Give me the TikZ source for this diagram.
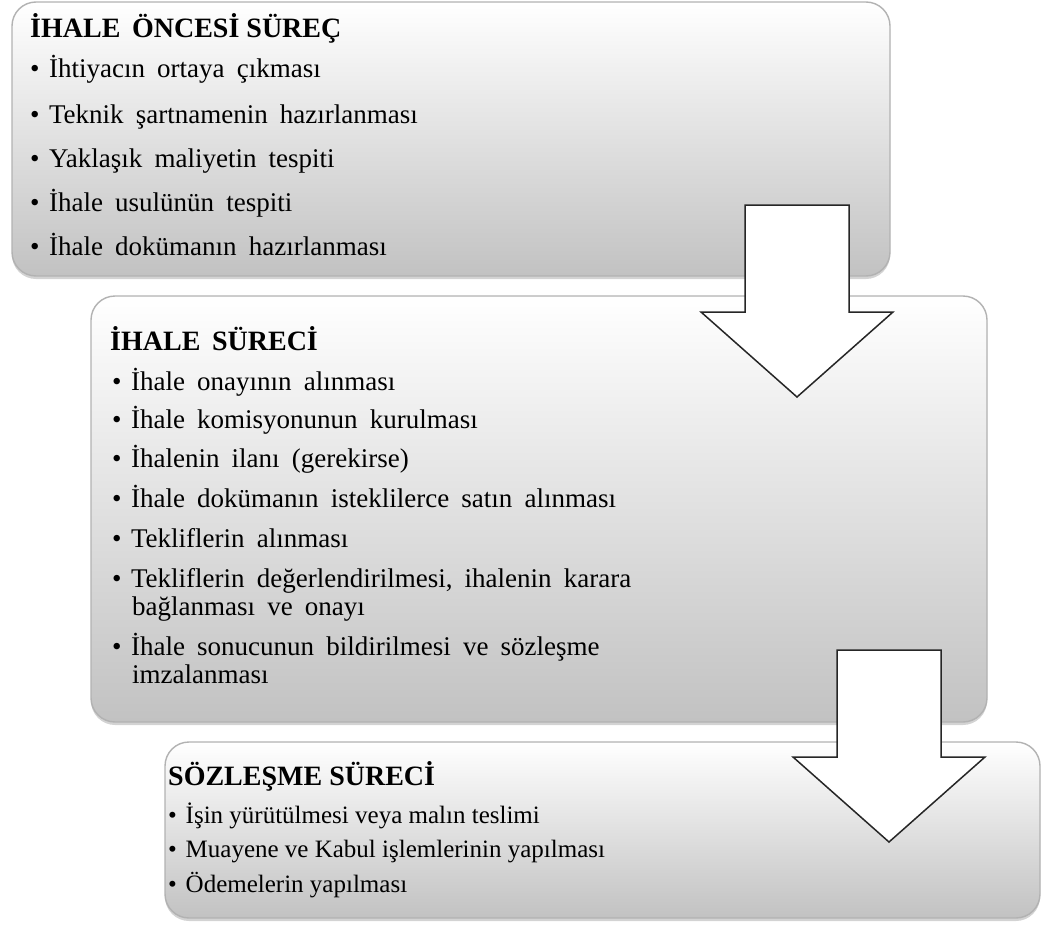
\documentclass[tikz,border=0pt]{standalone}
\usepackage{fontspec}
\setmainfont{Liberation Serif}
\usepackage{tikz}
\usetikzlibrary{shadows}

\newcommand{\stagebul}{\textbullet\hspace{0.35em}}
\newcommand{\widespaces}{\spaceskip 0.45em plus 0.1em\relax}

\begin{document}
\begin{tikzpicture}[
  x=1pt, y=-1pt,
  stage/.style={draw=black!30, line width=1.4pt, rounded corners=24pt,
    top color=white, bottom color=black!24, inner sep=0pt,
    drop shadow={shadow xshift=0pt, shadow yshift=-3pt, opacity=0.35}},
  stagetitle/.style={anchor=base west, inner sep=0pt, font=\fontsize{28}{32}\selectfont\bfseries},
  stageitem/.style={anchor=base west, inner sep=0pt,
    font=\fontsize{27}{32}\selectfont\widespaces},
  smallitem/.style={stageitem, font=\fontsize{25}{30}\selectfont},
  blockarrow/.style={draw=black!85, line width=1.5pt, fill=white, line join=miter}
]
  \useasboundingbox (0,0) rectangle (1042,926);

  % the three stages
  \node[stage, minimum width=878, minimum height=274] (pre)  at (451,139)   {};
  \node[stage, minimum width=896, minimum height=426] (ihale) at (539,509)  {};
  \node[stage, minimum width=875, minimum height=176] (sozl) at (602.5,830) {};

  % ihale oncesi
  \node[stagetitle] (preT)  at (30,37)  {İHALE\, ÖNCESİ SÜREÇ};
  \node[stageitem]  (pre1)  at (30,77)  {\stagebul İhtiyacın ortaya çıkması};
  \node[stageitem]  (pre2)  at (30,123) {\stagebul Teknik şartnamenin hazırlanması};
  \node[stageitem]  (pre3)  at (30,167) {\stagebul Yaklaşık maliyetin tespiti};
  \node[stageitem]  (pre4)  at (30,211) {\stagebul İhale usulünün tespiti};
  \node[stageitem]  (pre5)  at (30,255) {\stagebul İhale dokümanın hazırlanması};

  % ihale sureci
  \node[stagetitle] (ihT)   at (110,350) {İHALE\, SÜRECİ};
  \node[stageitem]  (ih1)   at (112,390) {\stagebul İhale onayının alınması};
  \node[stageitem]  (ih2)   at (112,428) {\stagebul İhale komisyonunun kurulması};
  \node[stageitem]  (ih3)   at (112,467) {\stagebul İhalenin ilanı (gerekirse)};
  \node[stageitem]  (ih4)   at (112,507) {\stagebul İhale dokümanın isteklilerce satın alınması};
  \node[stageitem]  (ih5)   at (112,547) {\stagebul Tekliflerin alınması};
  \node[stageitem]  (ih6)   at (112,587) {\stagebul Tekliflerin değerlendirilmesi, ihalenin karara};
  \node[stageitem]  (ih6b)  at (132,615) {bağlanması ve onayı};
  \node[stageitem]  (ih7)   at (112,655) {\stagebul İhale sonucunun bildirilmesi ve sözleşme};
  \node[stageitem]  (ih7b)  at (132,683) {imzalanması};

  % sozlesme sureci
  \node[stagetitle] (szT)   at (168,785) {SÖZLEŞME SÜRECİ};
  \node[smallitem]  (sz1)   at (168,823) {\stagebul İşin yürütülmesi veya malın teslimi};
  \node[smallitem]  (sz2)   at (168,857) {\stagebul Muayene ve Kabul işlemlerinin yapılması};
  \node[smallitem]  (sz3)   at (168,892) {\stagebul Ödemelerin yapılması};

  % down arrows between stages
  \foreach \ax/\ay in {797/205, 889/650}
    \draw[blockarrow, shift={(\ax,\ay)}]
      (-52,0) -- (52,0) -- (52,107) -- (96,107) -- (0,192) -- (-96,107) -- (-52,107) -- cycle;
\end{tikzpicture}
\end{document}
